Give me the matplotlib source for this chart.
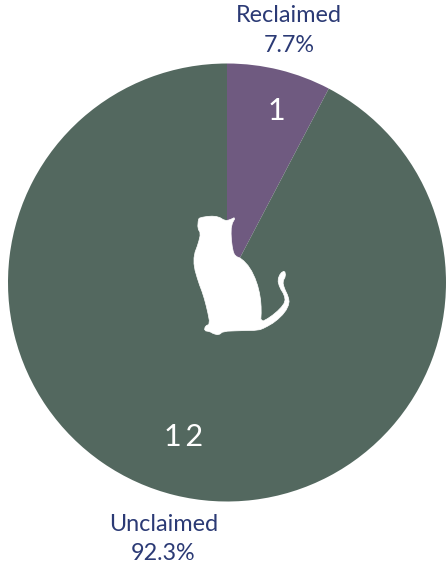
import matplotlib
matplotlib.use("Agg")
import matplotlib.pyplot as plt
from matplotlib.patches import Polygon
import numpy as np

plt.rcParams['font.family'] = ['Lato', 'DejaVu Sans']

labels = ["Reclaimed", "Unclaimed"]
counts = [1, 12]
colors = ["#6f5a80", "#53685f"]
shares = [100 * c / sum(counts) for c in counts]

# cat icon outline, in pixels of the zoomed crop
cat = np.array([
    (90, 53), (120, 48), (145, 50), (165, 62), (178, 60), (197, 51), (184, 75), (183, 110),
    (188, 150), (195, 168), (215, 176), (240, 203), (260, 245), (271, 290),
    (274, 330), (272, 367), (300, 352), (330, 327), (346, 305), (343, 285),
    (329, 262), (323, 240), (331, 220), (344, 212), (347, 228), (338, 245),
    (343, 265), (355, 290), (358, 310), (345, 337), (316, 365), (285, 383),
    (265, 391), (210, 392), (160, 394), (146, 405), (130, 401), (120, 395),
    (103, 392), (106, 378), (120, 372), (112, 330), (100, 285), (85, 245),
    (72, 200), (72, 165), (85, 130), (92, 100), (83, 85), (85, 58),
], dtype=float)
cat = cat / 3 + [170, 200]
cat[:, 1] = 567 - cat[:, 1]

# round the corners a bit
nxt = np.roll(cat, -1, axis=0)
cat = np.column_stack([0.75 * cat + 0.25 * nxt, 0.25 * cat + 0.75 * nxt]).reshape(-1, 2)

fig = plt.figure(figsize=(4.46, 5.67), dpi=100)
ax = fig.add_axes([0, 0, 1, 1])

ax.pie(counts, colors=colors, startangle=90, counterclock=False,
       center=(227, 284.5), radius=219)
ax.set_xlim(0, 446)
ax.set_ylim(0, 567)
ax.set_aspect("equal")
ax.axis("off")

ax.add_patch(Polygon(cat, closed=True, facecolor="white", edgecolor="white",
                     linewidth=0.5, zorder=3))

text_col = "#2b3a75"
ax.text(289, 536.5, f"{labels[0]}\n{shares[0]:.1f}%", ha="center", va="center",
        fontsize=16.8, color=text_col, linespacing=1.5)
ax.text(163.5, 28, f"{labels[1]}\n{shares[1]:.1f}%", ha="center", va="center",
        fontsize=16.8, color=text_col, linespacing=1.5)

ax.text(276, 456, "1", ha="center", va="center", fontsize=22, color="white")
ax.text(184, 130, "1\u20092", ha="center", va="center", fontsize=22, color="white")

fig.savefig("out.png", dpi=100)
